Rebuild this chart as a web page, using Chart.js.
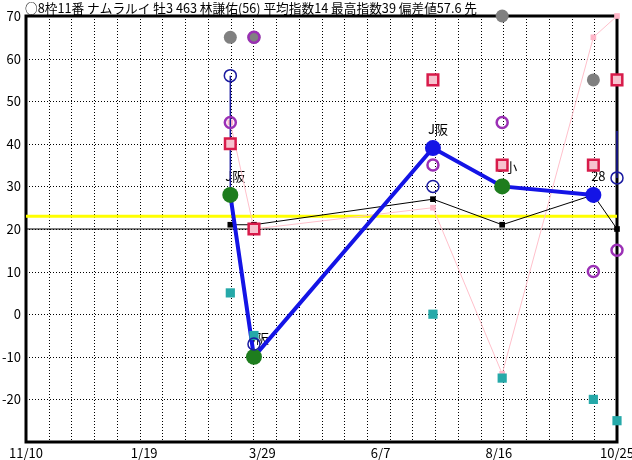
<!DOCTYPE html>
<html>
<head>
<meta charset="utf-8">
<script src="https://cdn.jsdelivr.net/npm/chart.js@4.4.0/dist/chart.umd.min.js"></script>
<style>
  body { margin: 0; background: #fff; }
  #wrap { width: 632px; height: 460px; }
</style>
</head>
<body>
<div id="wrap"><canvas id="chart" width="632" height="460"></canvas></div>
<script>
// heading text drawn above the plot
var titleText = "○8枠11番 ナムラルイ 牡3 463 林謙佑(56) 平均指数14 最高指数39 偏差値57.6 先";

// x values are days counted from 11/10, ticks every 70 days
var raceDays = [121, 135, 241, 282, 336, 350];
var dateTicks = ["11/10", "1/19", "3/29", "6/7", "8/16", "10/25"];
var raceNotes = ["J阪", "J阪", "J阪", "3小", "28", ""];

// series values (null = no mark for that race)
var indexValues = [28, -10, 39, 30, 28, null];
var blackValues = [21, 21, 27, 21, 28, 20];
var pinkValues = [45, 20, 25, -14, 65, 70];
var redValues = [40, 20, 55, 35, 35, 55];
var grayValues = [65, 65, null, 70, 55, null];
var purpleValues = [45, 65, 35, 45, 10, 15];
var navyValues = [56, -7, 30, null, null, 32];
var tealValues = [5, -5, 0, -15, -20, -25];
// thin navy stems (from -> to)
var stemFrom = [56, null, null, null, null, 43];
var stemTo = [28, null, null, null, null, 32];
var avgValue = 23;
var baseValue = 20;

// colours of the big index dots
var indexColors = ["#1e7d1e", "#1e7d1e", "#1414e6", "#1e7d1e", "#1414e6"];

var FONT = "'Noto Sans CJK JP', 'Liberation Sans', sans-serif";

function toPoints(vals) {
  var out = [];
  for (var i = 0; i < raceDays.length; i++) {
    if (vals[i] !== null) out.push({ x: raceDays[i], y: vals[i] });
  }
  return out;
}

function stemPoints() {
  var out = [];
  for (var i = 0; i < raceDays.length; i++) {
    if (stemFrom[i] === null) continue;
    out.push({ x: raceDays[i], y: stemFrom[i] });
    out.push({ x: raceDays[i], y: stemTo[i] });
    out.push({ x: raceDays[i], y: null });
  }
  return out;
}

function flat(v) {
  return [{ x: 0, y: v }, { x: 350, y: v }];
}

// dotted grid from the y ticks and the hidden xg ticks, then the frame
var gridPlugin = {
  id: "dotgrid",
  beforeDatasetsDraw: function (chart) {
    var ctx = chart.ctx, a = chart.chartArea;
    var ys = chart.scales.y, gs = chart.scales.xg;
    ctx.save();
    ctx.strokeStyle = "#000";
    ctx.lineWidth = 1;
    ctx.setLineDash([1, 2]);
    ctx.beginPath();
    ys.ticks.forEach(function (t) {
      var py = Math.round(ys.getPixelForValue(t.value)) + 0.5;
      ctx.moveTo(a.left, py);
      ctx.lineTo(a.right, py);
    });
    gs.ticks.forEach(function (t) {
      var px = Math.round(gs.getPixelForValue(t.value)) + 0.5;
      ctx.moveTo(px, a.top);
      ctx.lineTo(px, a.bottom);
    });
    ctx.stroke();
    ctx.setLineDash([]);
    ctx.lineWidth = 3;
    ctx.strokeRect(Math.round(a.left), Math.round(a.top), Math.round(a.right - a.left), Math.round(a.bottom - a.top));
    ctx.restore();
  }
};

// heading and the little notes above the index dots
var textPlugin = {
  id: "texts",
  beforeDatasetsDraw: function (chart) {
    var ctx = chart.ctx;
    var xs = chart.scales.x, ys = chart.scales.y;
    ctx.save();
    ctx.font = "13px " + FONT;
    ctx.fillStyle = "#000";
    ctx.textAlign = "center";
    ctx.textBaseline = "middle";
    for (var i = 0; i < raceNotes.length; i++) {
      if (!raceNotes[i] || indexValues[i] === null) continue;
      ctx.fillText(raceNotes[i], xs.getPixelForValue(raceDays[i]) + 5, ys.getPixelForValue(indexValues[i]) - 19);
    }
    ctx.restore();
  },
  afterDraw: function (chart) {
    var ctx = chart.ctx;
    ctx.save();
    ctx.font = "12.7px " + FONT;
    ctx.fillStyle = "#000";
    ctx.textAlign = "left";
    ctx.textBaseline = "middle";
    ctx.fillText(titleText, 25, 8);
    ctx.restore();
  }
};

var ctx = document.getElementById("chart").getContext("2d");

new Chart(ctx, {
  type: "line",
  data: {
    datasets: [
      {
        data: toPoints(navyValues), showLine: false, order: 1,
        pointRadius: 6, pointStyle: "circle", pointBorderWidth: 1.5,
        pointBorderColor: "#1a1aa0", pointBackgroundColor: "rgba(0,0,0,0)"
      },
      {
        data: toPoints(purpleValues), showLine: false, order: 2,
        pointRadius: 5.5, pointStyle: "circle", pointBorderWidth: 2.5,
        pointBorderColor: "#9b30b5", pointBackgroundColor: "rgba(0,0,0,0)"
      },
      {
        data: toPoints(grayValues), showLine: false, order: 3,
        pointRadius: 6.5, pointStyle: "circle", pointBorderWidth: 0,
        pointBackgroundColor: "#808080"
      },
      {
        data: toPoints(redValues), showLine: false, order: 4,
        pointRadius: 7.5, pointStyle: "rect", pointBorderWidth: 2.5,
        pointBorderColor: "#d81b4a", pointBackgroundColor: "#f7c3cf"
      },
      {
        data: toPoints(tealValues), showLine: false, order: 5,
        pointRadius: 6.5, pointStyle: "rect", pointBorderWidth: 0,
        pointBackgroundColor: "#26a9a9"
      },
      {
        data: toPoints(indexValues), order: 6,
        borderColor: "#1414e6", borderWidth: 4, tension: 0,
        pointRadius: 8, pointBorderWidth: 0,
        pointBackgroundColor: indexColors
      },
      {
        data: stemPoints(), order: 7, spanGaps: false,
        borderColor: "#1a1aa0", borderWidth: 1.5, pointRadius: 0
      },
      {
        data: toPoints(blackValues), order: 8,
        borderColor: "#000", borderWidth: 1, tension: 0,
        pointRadius: 4, pointStyle: "rect", pointBorderWidth: 0,
        pointBackgroundColor: "#000"
      },
      {
        data: toPoints(pinkValues), order: 9,
        borderColor: "#ffc0cb", borderWidth: 1, tension: 0,
        pointRadius: 4, pointStyle: "rect", pointBorderWidth: 0,
        pointBackgroundColor: "#ffb6c8"
      },
      {
        data: flat(baseValue), order: 10,
        borderColor: "#000", borderWidth: 1, pointRadius: 0
      },
      {
        data: flat(avgValue), order: 11,
        borderColor: "#ffff00", borderWidth: 3, pointRadius: 0
      }
    ]
  },
  options: {
    responsive: false,
    animation: false,
    layout: { padding: 0 },
    datasets: { line: { clip: false } },
    plugins: {
      legend: { display: false },
      title: { display: false },
      tooltip: { enabled: false }
    },
    scales: {
      x: {
        type: "linear", position: "bottom", min: 0, max: 350,
        grid: { display: false, drawTicks: false },
        border: { display: false },
        ticks: {
          stepSize: 70, autoSkip: false, maxRotation: 0, padding: 3,
          color: "#000", font: { size: 13, family: FONT },
          callback: function (v) { return dateTicks[Math.round(v / 70)]; }
        },
        afterFit: function (s) { s.height = 18; s.paddingLeft = 0; s.paddingRight = 0; }
      },
      xg: {
        type: "linear", position: "top", min: 0, max: 26, display: true,
        grid: { display: false, drawTicks: false },
        border: { display: false },
        ticks: { display: false, stepSize: 1 },
        afterFit: function (s) { s.height = 16; s.paddingLeft = 0; s.paddingRight = 0; }
      },
      y: {
        type: "linear", position: "left", min: -30, max: 70,
        grid: { display: false, drawTicks: false },
        border: { display: false },
        ticks: {
          stepSize: 10, padding: 5, color: "#000", font: { size: 13, family: FONT },
          callback: function (v) { return v === -30 ? "" : v; }
        },
        afterFit: function (s) { s.width = 26; s.paddingTop = 0; s.paddingBottom = 0; }
      },
      yr: {
        type: "linear", position: "right", min: 0, max: 1,
        grid: { display: false, drawTicks: false },
        border: { display: false },
        ticks: { display: false },
        afterFit: function (s) { s.width = 15; }
      }
    }
  },
  plugins: [gridPlugin, textPlugin]
});
</script>
</body>
</html>
